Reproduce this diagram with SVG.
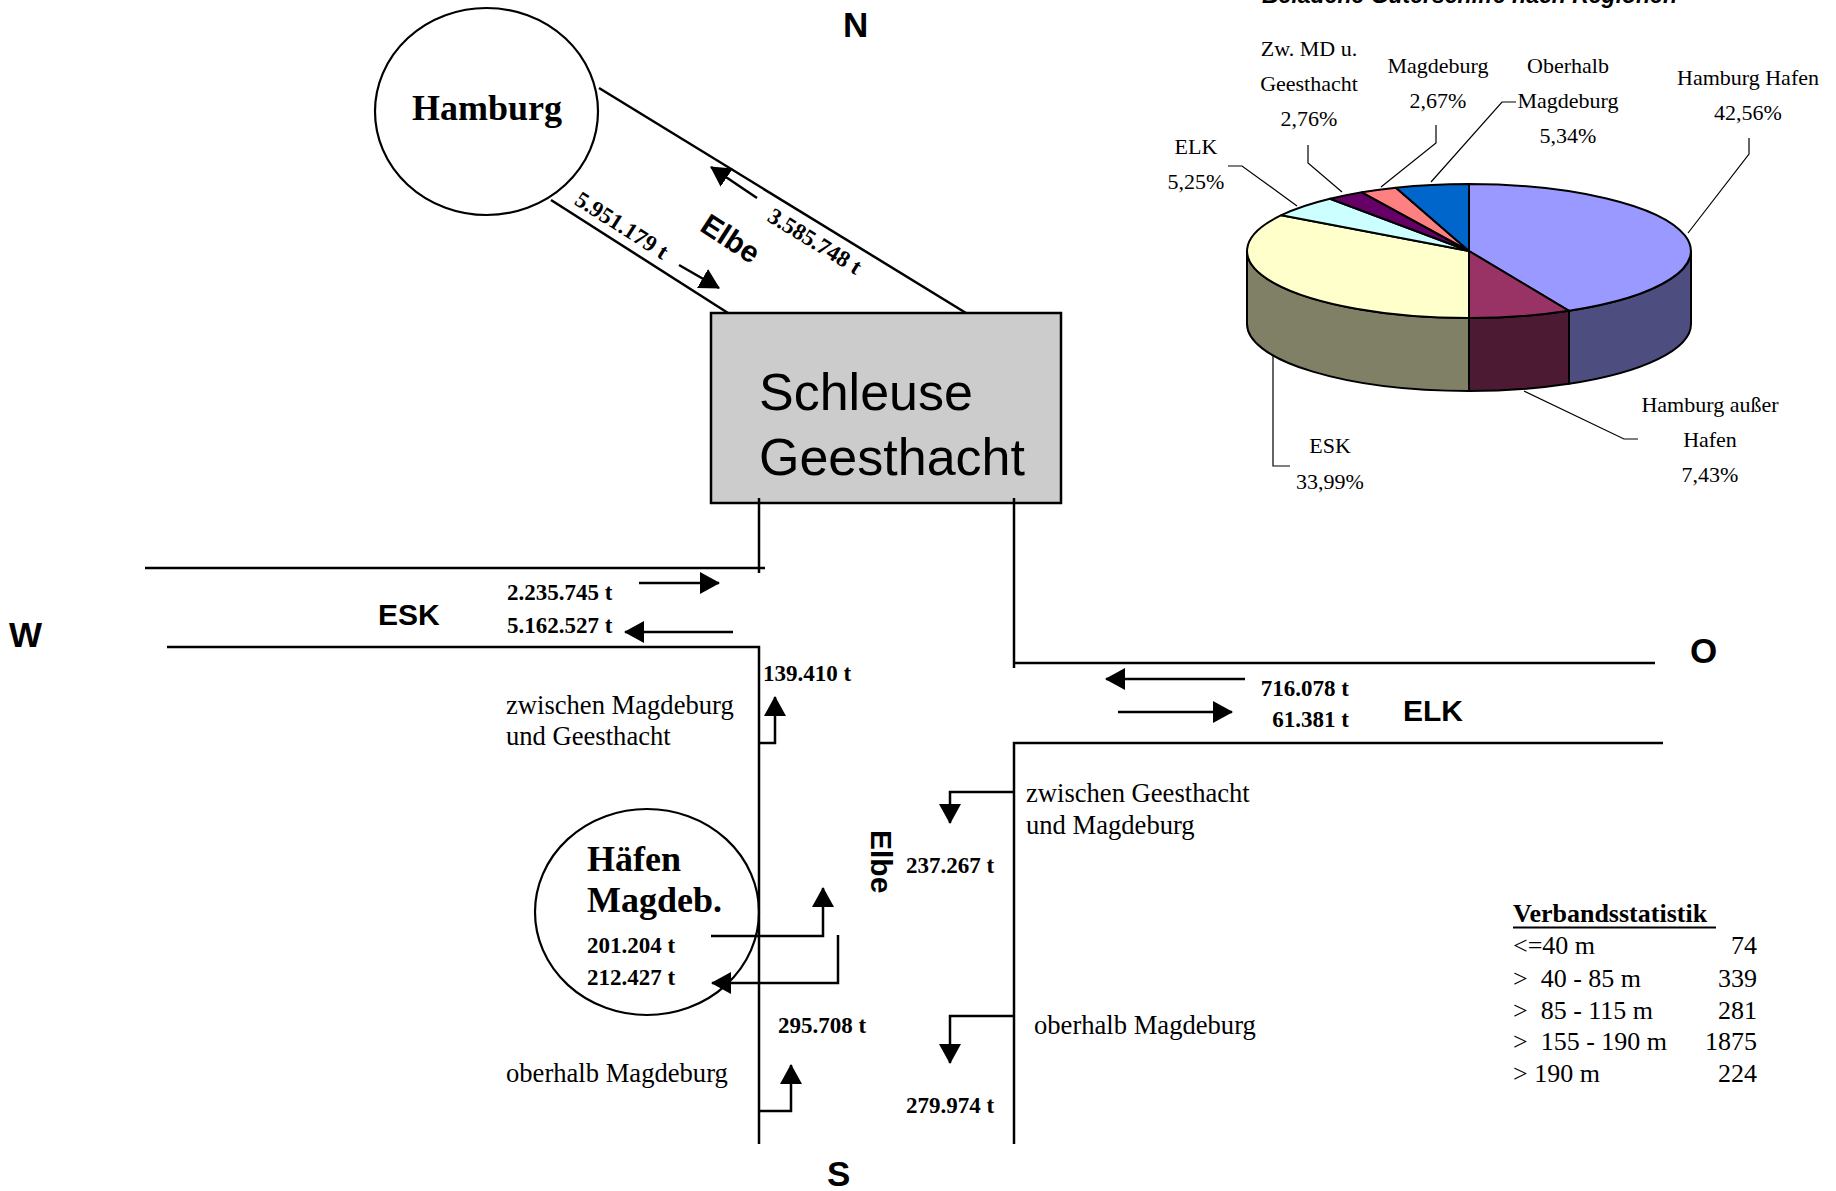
<svg xmlns="http://www.w3.org/2000/svg" width="1836" height="1191" viewBox="0 0 1836 1191">
<defs>
<style>
.ln{stroke:#000;stroke-width:2.5;fill:none}
.ar{stroke:#000;stroke-width:2.5;fill:none;marker-end:url(#ah)}
.ld{stroke:#000;stroke-width:1.2;fill:none}
.pie{stroke:#000;stroke-width:2;stroke-linejoin:round}
.sb{font-family:"Liberation Sans",Arial,sans-serif;font-weight:bold}
.sn{font-family:"Liberation Sans",Arial,sans-serif;font-size:52px}
.tb{font-family:"Liberation Serif","Times New Roman",serif;font-weight:bold;font-size:23px}
.tr{font-family:"Liberation Serif","Times New Roman",serif;font-size:26.6px}
.pl{font-family:"Liberation Serif","Times New Roman",serif;font-size:22px;text-anchor:middle}
.big{font-family:"Liberation Serif","Times New Roman",serif;font-weight:bold;font-size:36px}
</style>
<marker id="ah" viewBox="0 0 20 22" refX="19" refY="11" markerWidth="20" markerHeight="22" markerUnits="userSpaceOnUse" orient="auto"><path d="M0,0 L20,11 L0,22 Z" fill="#000"/></marker>
</defs>
<rect width="1836" height="1191" fill="#fff"/>

<g id="compass" class="sb" font-size="35">
<text x="843" y="37">N</text>
<text x="9" y="647">W</text>
<text x="1690" y="663">O</text>
<text x="827" y="1186">S</text>
</g>

<g id="hamburg">
<ellipse cx="486.5" cy="111.5" rx="111.5" ry="103.5" fill="#fff" stroke="#000" stroke-width="2.2"/>
<text class="big" x="487" y="120" text-anchor="middle">Hamburg</text>
</g>

<g id="schleuse">
<rect x="711" y="313" width="350" height="190" fill="#CCCCCC" stroke="#000" stroke-width="2.5"/>
<text class="sn" x="759" y="410">Schleuse</text>
<text class="sn" x="759" y="475">Geesthacht</text>
</g>

<g id="haefen">
<ellipse cx="647" cy="912" rx="112" ry="103" fill="none" stroke="#000" stroke-width="2.2"/>
<text class="big" x="587" y="871">Häfen</text>
<text class="big" x="587" y="912">Magdeb.</text>
<text class="tb" x="587" y="953">201.204 t</text>
<text class="tb" x="587" y="985">212.427 t</text>
</g>

<g id="connectors">
<line class="ln" x1="599" y1="88" x2="966" y2="313"/>
<line class="ln" x1="551" y1="200" x2="728" y2="313"/>
<polyline class="ln" points="759,498 759,573"/>
<line class="ln" x1="145" y1="568" x2="765" y2="568"/>
<polyline class="ln" points="167,647 759,647 759,1144"/>
<polyline class="ln" points="1014,498 1014,668"/>
<line class="ln" x1="1013" y1="663" x2="1655" y2="663"/>
<polyline class="ln" points="1663,743 1014,743 1014,1144"/>

<line class="ar" x1="679" y1="265" x2="719" y2="288"/>
<line class="ar" x1="757" y1="198" x2="711" y2="167"/>
<line class="ar" x1="639" y1="583" x2="719" y2="583"/>
<line class="ar" x1="733" y1="632" x2="625" y2="632"/>
<line class="ar" x1="1245" y1="679" x2="1106" y2="679"/>
<line class="ar" x1="1118" y1="712" x2="1232" y2="712"/>
<polyline class="ar" points="759,743 775,743 775,697"/>
<polyline class="ar" points="711,936 823,936 823,888"/>
<polyline class="ar" points="838,935 838,983 712,983"/>
<polyline class="ar" points="759,1111 791,1111 791,1065"/>
<polyline class="ar" points="1014,792 950,792 950,823"/>
<polyline class="ar" points="1014,1016 950,1016 950,1063"/>
</g>

<g id="labels">
<text class="tb" transform="translate(622,225) rotate(32.5)" y="8" text-anchor="middle">5.951.179 t</text>
<text class="tb" transform="translate(815,241) rotate(31.5)" y="8" text-anchor="middle">3.585.748 t</text>
<text class="sb" font-size="30" transform="translate(731,238) rotate(33)" y="11" text-anchor="middle">Elbe</text>
<text class="sb" font-size="30" transform="translate(871,830) rotate(90)">Elbe</text>
<text class="sb" font-size="30" x="378" y="625">ESK</text>
<text class="sb" font-size="30" x="1403" y="721">ELK</text>
<text class="tb" x="507" y="600">2.235.745 t</text>
<text class="tb" x="507" y="633">5.162.527 t</text>
<text class="tb" x="1349" y="696" text-anchor="end">716.078 t</text>
<text class="tb" x="1349" y="727" text-anchor="end">61.381 t</text>
<text class="tb" x="763" y="681">139.410 t</text>
<text class="tb" x="906" y="873">237.267 t</text>
<text class="tb" x="778" y="1033">295.708 t</text>
<text class="tb" x="906" y="1113">279.974 t</text>
<text class="tr" x="506" y="714">zwischen Magdeburg</text>
<text class="tr" x="506" y="745">und Geesthacht</text>
<text class="tr" x="1026" y="802">zwischen Geesthacht</text>
<text class="tr" x="1026" y="834">und Magdeburg</text>
<text class="tr" x="506" y="1082">oberhalb Magdeburg</text>
<text class="tr" x="1034" y="1034">oberhalb Magdeburg</text>
</g>

<g id="pie">
<text class="sb" font-size="23" font-style="italic" x="1262" y="3">Beladene Güterschiffe nach Regionen</text>
<path class="pie" fill="#4D4D80" d="M1691,251 A222,67 0 0 1 1569,310.8 L1569,383.8 A222,67 0 0 0 1691,324 Z"/>
<path class="pie" fill="#4D1A33" d="M1569,310.8 A222,67 0 0 1 1469,318 L1469,391 A222,67 0 0 0 1569,383.8 Z"/>
<path class="pie" fill="#808066" d="M1469,318 A222,67 0 0 1 1247,251 L1247,324 A222,67 0 0 0 1469,391 Z"/>
<path class="pie" fill="#9999FF" d="M1469,251 L1469,184 A222,67 0 0 1 1569,310.8 Z"/>
<path class="pie" fill="#993366" d="M1469,251 L1569,310.8 A222,67 0 0 1 1469,318 Z"/>
<path class="pie" fill="#FFFFCC" d="M1469,251 L1469,318 A222,67 0 0 1 1281.4,215.2 Z"/>
<path class="pie" fill="#CCFFFF" d="M1469,251 L1281.4,215.2 A222,67 0 0 1 1330,198.8 Z"/>
<path class="pie" fill="#660066" d="M1469,251 L1330,198.8 A222,67 0 0 1 1362,192.3 Z"/>
<path class="pie" fill="#FF8080" d="M1469,251 L1362,192.3 A222,67 0 0 1 1395.9,187.7 Z"/>
<path class="pie" fill="#0066CC" d="M1469,251 L1395.9,187.7 A222,67 0 0 1 1469,184 Z"/>
<polyline class="ld" points="1749,138 1749,154 1688,233"/>
<polyline class="ld" points="1516,102 1502,102 1431,182"/>
<polyline class="ld" points="1436,125 1436,143 1381,187"/>
<polyline class="ld" points="1308,145 1308,163 1342,192"/>
<polyline class="ld" points="1228,166 1242,166 1297,206"/>
<polyline class="ld" points="1273,356 1273,466 1290,466"/>
<polyline class="ld" points="1524,391 1624,439 1638,439"/>
<text class="pl" x="1748" y="85">Hamburg Hafen</text>
<text class="pl" x="1748" y="120">42,56%</text>
<text class="pl" x="1568" y="73">Oberhalb</text>
<text class="pl" x="1568" y="108">Magdeburg</text>
<text class="pl" x="1568" y="143">5,34%</text>
<text class="pl" x="1438" y="73">Magdeburg</text>
<text class="pl" x="1438" y="108">2,67%</text>
<text class="pl" x="1309" y="56">Zw. MD u.</text>
<text class="pl" x="1309" y="91">Geesthacht</text>
<text class="pl" x="1309" y="126">2,76%</text>
<text class="pl" x="1196" y="154">ELK</text>
<text class="pl" x="1196" y="189">5,25%</text>
<text class="pl" x="1330" y="453">ESK</text>
<text class="pl" x="1330" y="489">33,99%</text>
<text class="pl" x="1710" y="412">Hamburg außer</text>
<text class="pl" x="1710" y="447">Hafen</text>
<text class="pl" x="1710" y="482">7,43%</text>
</g>

<g id="stats" font-family="'Liberation Serif','Times New Roman',serif" font-size="26">
<text x="1513" y="922" font-weight="bold">Verbandsstatistik</text>
<line x1="1513" y1="927.5" x2="1716" y2="927.5" stroke="#000" stroke-width="2"/>
<text x="1513" y="954" xml:space="preserve">&lt;=40 m</text>
<text x="1513" y="987" xml:space="preserve">&gt;  40 - 85 m</text>
<text x="1513" y="1019" xml:space="preserve">&gt;  85 - 115 m</text>
<text x="1513" y="1050" xml:space="preserve">&gt;  155 - 190 m</text>
<text x="1513" y="1082" xml:space="preserve">&gt; 190 m</text>
<g text-anchor="end">
<text x="1757" y="954">74</text>
<text x="1757" y="987">339</text>
<text x="1757" y="1019">281</text>
<text x="1757" y="1050">1875</text>
<text x="1757" y="1082">224</text>
</g>
</g>
</svg>
